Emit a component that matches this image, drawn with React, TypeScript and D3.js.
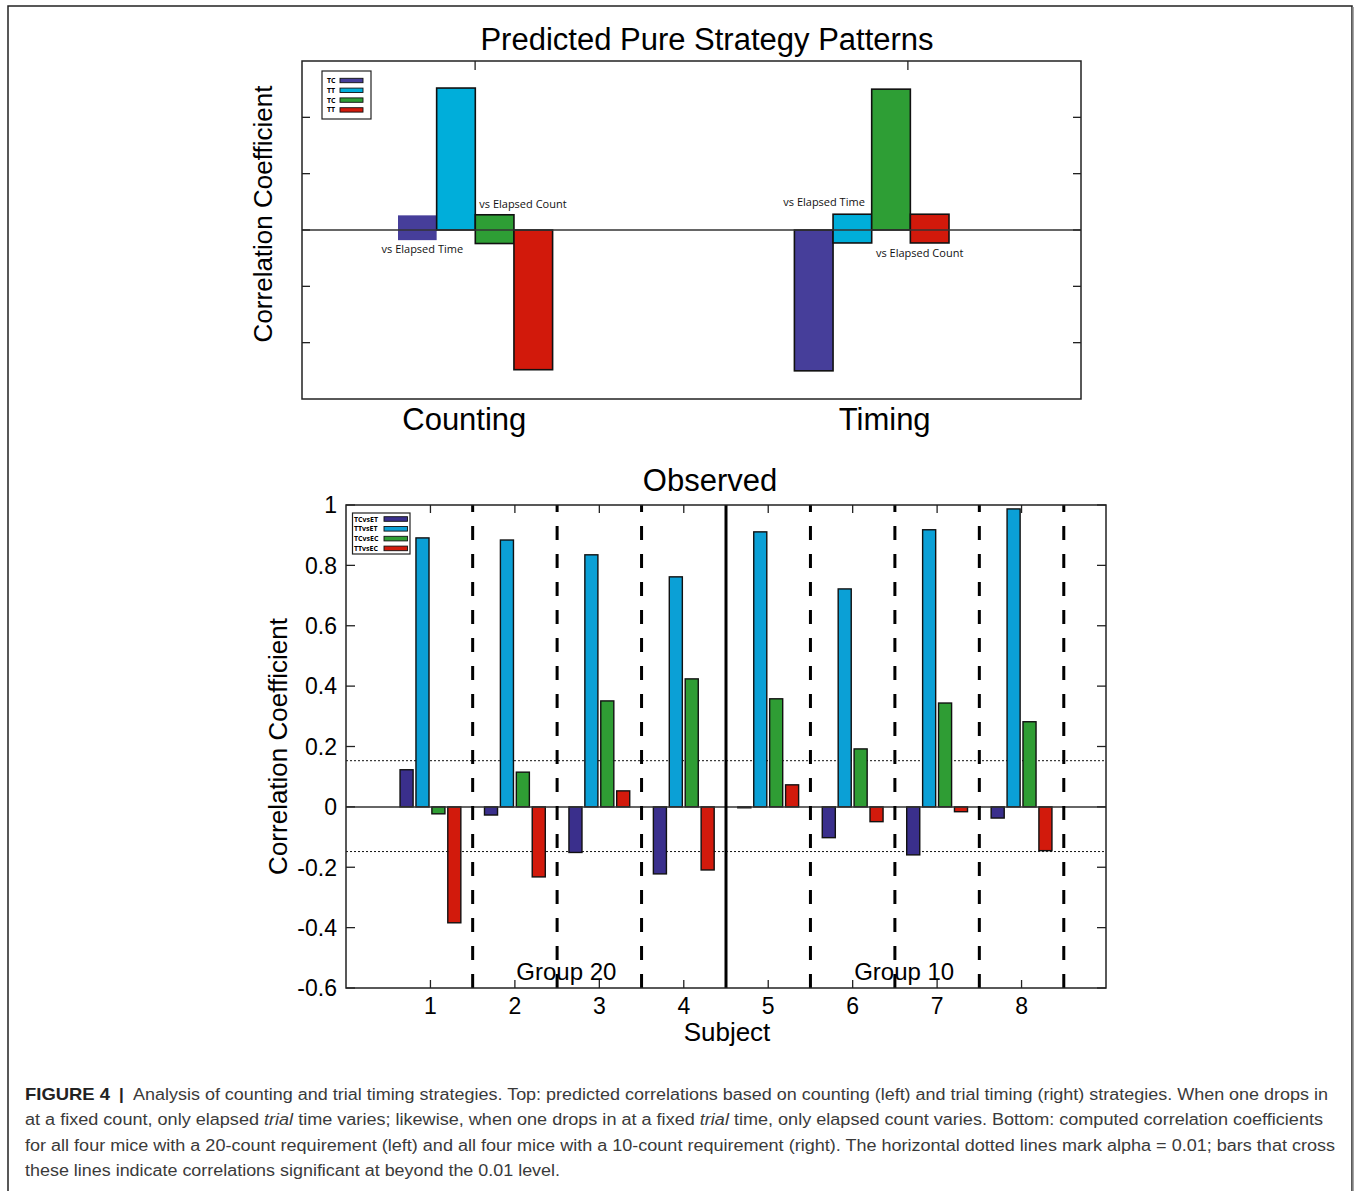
import React from 'react';
import * as d3 from 'd3';

// series and colours
const series = ['TCvsET', 'TTvsET', 'TCvsEC', 'TTvsEC'];
const legendTop = ['TC', 'TT', 'TC', 'TT'];
const colorsTop = ['#463E9A', '#00AEDA', '#2E9E35', '#D2190B'];
const colorsBottom = ['#3A2F8C', '#0BA0D6', '#2F9D34', '#D21A0C'];

// predicted pattern: [low, high] per series
const strategies = ['Counting', 'Timing'];
const predCounting = [[-0.09, 0.13], [0, 1.26], [-0.12, 0.135], [-1.24, 0]];
const predTiming = [[-1.25, 0], [-0.115, 0.14], [0, 1.25], [-0.115, 0.14]];
const predTicks = [-1, -0.5, 0, 0.5, 1];

// observed correlations
const subjects = [1, 2, 3, 4, 5, 6, 7, 8];
const tcvsET = [0.123, -0.027, -0.151, -0.222, -0.003, -0.102, -0.159, -0.037];
const ttvsET = [0.891, 0.884, 0.835, 0.762, 0.911, 0.722, 0.918, 0.987];
const tcvsEC = [-0.023, 0.115, 0.351, 0.424, 0.358, 0.192, 0.344, 0.282];
const ttvsEC = [-0.384, -0.232, 0.053, -0.209, 0.073, -0.049, -0.016, -0.145];
const obsTicks = [-0.6, -0.4, -0.2, 0, 0.2, 0.4, 0.6, 0.8, 1];
const alphaLines = [0.153, -0.148];
const dashedDividers = [1.5, 2.5, 3.5, 5.5, 6.5, 7.5, 8.5];
const solidDivider = 4.5;
const groups = [{ label: 'Group 20', at: 2.61 }, { label: 'Group 10', at: 6.61 }];

const font = '"Liberation Sans", Arial, sans-serif';
const smallFont = '"Open Sans", "Noto Sans", sans-serif';

function TopChart() {
  const left = 302, right = 1081, top = 61, bottom = 399;
  const y = d3.scaleLinear().domain([-1.5, 1.5]).range([bottom, top]);
  const xAxis = d3.scaleLinear().domain([0.6, 2.4]).range([left, right]);
  const xGroup = d3.scaleBand().domain(strategies).range([398, 949]).paddingInner(0.61);
  const xBar = d3.scaleBand().domain(series).range([0, xGroup.bandwidth()]);
  const data = [predCounting, predTiming];

  const barX = (g: string, s: string) => (xGroup(g) as number) + (xBar(s) as number);
  const bw = xBar.bandwidth();

  return (
    <g>
      <text x={707} y={50} textAnchor="middle" fontFamily={font} fontSize={31}>Predicted Pure Strategy Patterns</text>
      <text transform={`translate(272,${(top + bottom) / 2 - 16}) rotate(-90)`} textAnchor="middle" fontFamily={font} fontSize={26}>Correlation Coefficient</text>
      {strategies.map((g, gi) =>
        series.map((s, si) => {
          const [lo, hi] = data[gi][si];
          const noStroke = gi === 0 && si === 0;
          return (
            <rect key={g + s} x={barX(g, s)} width={bw} y={y(hi)} height={y(lo) - y(hi)}
              fill={colorsTop[si]} stroke={noStroke ? 'none' : '#111'} strokeWidth={1.6} />
          );
        })
      )}
      <line x1={left} x2={right} y1={y(0)} y2={y(0)} stroke="#333" strokeWidth={1.5} />
      {/* bar annotations */}
      <g fontFamily={smallFont} fontSize={11} fill="#111">
        <text x={barX('Counting', 'TCvsET') + bw / 2 + 5} y={y(predCounting[0][0]) + 13} textAnchor="middle">vs Elapsed Time</text>
        <text x={barX('Counting', 'TCvsEC') + 4} y={y(predCounting[2][1]) - 7}>vs Elapsed Count</text>
        <text x={barX('Timing', 'TTvsET') - 9} y={y(predTiming[1][1]) - 8} textAnchor="middle">vs Elapsed Time</text>
        <text x={barX('Timing', 'TTvsEC') + bw / 2 - 10} y={y(predTiming[3][0]) + 14} textAnchor="middle">vs Elapsed Count</text>
      </g>
      <rect x={left} y={top} width={right - left} height={bottom - top} fill="none" stroke="#222" strokeWidth={1.5} />
      {predTicks.map(t => (
        <g key={t}>
          <line x1={left} x2={left + 8} y1={y(t)} y2={y(t)} stroke="#222" strokeWidth={1.3} />
          <line x1={right - 8} x2={right} y1={y(t)} y2={y(t)} stroke="#222" strokeWidth={1.3} />
        </g>
      ))}
      {[1, 2].map(t => (
        <line key={t} x1={xAxis(t)} x2={xAxis(t)} y1={top} y2={top + 9} stroke="#222" strokeWidth={1.3} />
      ))}
      {strategies.map((g, gi) => (
        <text key={g} x={(xGroup(g) as number) + xGroup.bandwidth() / 2 + (gi === 0 ? -11 : 13)} y={430}
          textAnchor="middle" fontFamily={font} fontSize={31}>{g}</text>
      ))}
      {/* legend */}
      <rect x={322} y={71} width={49} height={48} fill="#fff" stroke="#222" strokeWidth={1.2} />
      {legendTop.map((l, i) => (
        <g key={i} transform={`translate(0,${80.5 + i * 9.8})`}>
          <text x={327} y={2.5} fontFamily={smallFont} fontSize={7} fontWeight="bold">{l}</text>
          <rect x={340} y={-2.2} width={23} height={4.4} fill={colorsTop[i]} stroke="#111" strokeWidth={0.9} />
        </g>
      ))}
    </g>
  );
}

function BottomChart() {
  const left = 346, right = 1106, top = 505, bottom = 988;
  const y = d3.scaleLinear().domain([-0.6, 1]).range([bottom, top]);
  const x = d3.scaleLinear().domain([0, 9]).range([left, right]);
  const inner = d3.scaleBand().domain(series).range([-0.36, 0.36]).paddingInner(0.18);
  const values = [tcvsET, ttvsET, tcvsEC, ttvsEC];
  const bw = x(inner.bandwidth()) - x(0);
  const fmt = (t: number) => String(+t.toFixed(1));

  return (
    <g>
      <text x={710} y={491} textAnchor="middle" fontFamily={font} fontSize={31}>Observed</text>
      <text transform={`translate(287,${(top + bottom) / 2}) rotate(-90)`} textAnchor="middle" fontFamily={font} fontSize={26}>Correlation Coefficient</text>
      {/* alpha lines */}
      {alphaLines.map(a => (
        <line key={a} x1={left} x2={right} y1={y(a)} y2={y(a)} stroke="#111" strokeWidth={1} strokeDasharray="2,2" />
      ))}
      {subjects.map((s, i) =>
        series.map((k, si) => {
          const v = values[si][i];
          const x0 = x(s + (inner(k) as number));
          return (
            <rect key={s + k} x={x0} width={bw} y={y(Math.max(0, v))} height={Math.abs(y(v) - y(0))}
              fill={colorsBottom[si]} stroke="#111" strokeWidth={1.4} />
          );
        })
      )}
      <line x1={left} x2={right} y1={y(0)} y2={y(0)} stroke="#333" strokeWidth={1.5} />
      {dashedDividers.map(d => (
        <line key={d} x1={x(d)} x2={x(d)} y1={bottom} y2={top} stroke="#000" strokeWidth={3} strokeDasharray="14,14" />
      ))}
      <line x1={x(solidDivider)} x2={x(solidDivider)} y1={top} y2={bottom} stroke="#000" strokeWidth={3} />
      <rect x={left} y={top} width={right - left} height={bottom - top} fill="none" stroke="#222" strokeWidth={1.5} />
      {obsTicks.map(t => (
        <g key={t}>
          <line x1={left} x2={left + 9} y1={y(t)} y2={y(t)} stroke="#222" strokeWidth={1.3} />
          <line x1={right - 9} x2={right} y1={y(t)} y2={y(t)} stroke="#222" strokeWidth={1.3} />
          <text x={337} y={y(t)} dy="0.36em" textAnchor="end" fontFamily={font} fontSize={23}>{fmt(t)}</text>
        </g>
      ))}
      {subjects.map(s => (
        <g key={s}>
          <line x1={x(s)} x2={x(s)} y1={top} y2={top + 8} stroke="#222" strokeWidth={1.3} />
          <line x1={x(s)} x2={x(s)} y1={bottom - 8} y2={bottom} stroke="#222" strokeWidth={1.3} />
          <text x={x(s)} y={1014} textAnchor="middle" fontFamily={font} fontSize={23}>{s}</text>
        </g>
      ))}
      {groups.map(g => (
        <text key={g.label} x={x(g.at)} y={980} textAnchor="middle" fontFamily={font} fontSize={24}>{g.label}</text>
      ))}
      <text x={727} y={1041} textAnchor="middle" fontFamily={font} fontSize={26}>Subject</text>
      {/* legend */}
      <rect x={352.5} y={513} width={57.5} height={41} fill="#fff" stroke="#222" strokeWidth={1.2} />
      {series.map((l, i) => (
        <g key={l} transform={`translate(0,${519 + i * 9.8})`}>
          <text x={354} y={2.5} fontFamily={smallFont} fontSize={7} fontWeight="bold">{l}</text>
          <rect x={384} y={-2.3} width={23.5} height={4.6} fill={colorsBottom[i]} stroke="#111" strokeWidth={0.9} />
        </g>
      ))}
    </g>
  );
}

function Caption() {
  const cf = '"Liberation Sans", Arial, sans-serif';
  return (
    <g fontFamily={cf} fontSize={16} fill="#3a3a3a">
      <text x={25} y={1100} fontSize={17} fontWeight="bold" fill="#222" textLength={85} lengthAdjust="spacingAndGlyphs">FIGURE 4</text>
      <text x={119} y={1100} fontSize={17} fontWeight="bold" fill="#222">|</text>
      <text x={133} y={1100} textLength={1195} lengthAdjust="spacingAndGlyphs">
        Analysis of counting and trial timing strategies. Top: predicted correlations based on counting (left) and trial timing (right) strategies. When one drops in
      </text>
      <text x={25} y={1125} textLength={1298} lengthAdjust="spacingAndGlyphs">
        at a fixed count, only elapsed <tspan fontStyle="italic">trial</tspan> time varies; likewise, when one drops in at a fixed <tspan fontStyle="italic">trial</tspan> time, only elapsed count varies. Bottom: computed correlation coefficients
      </text>
      <text x={25} y={1151} textLength={1310} lengthAdjust="spacingAndGlyphs">
        for all four mice with a 20-count requirement (left) and all four mice with a 10-count requirement (right). The horizontal dotted lines mark alpha = 0.01; bars that cross
      </text>
      <text x={25} y={1176} textLength={535} lengthAdjust="spacingAndGlyphs">
        these lines indicate correlations significant at beyond the 0.01 level.
      </text>
    </g>
  );
}

export default function App() {
  return (
    <svg width={1356} height={1191} style={{ position: 'absolute', left: 0, top: 0, background: '#fff' }}>
      <rect x={0} y={0} width={1356} height={1191} fill="#fff" />
      <rect x={8} y={6} width={1344} height={1200} fill="none" stroke="#222" strokeWidth={1.5} />
      <line x1={1353} x2={1353} y1={7} y2={1191} stroke="#888" strokeWidth={1.5} />
      <TopChart />
      <BottomChart />
      <Caption />
    </svg>
  );
}
